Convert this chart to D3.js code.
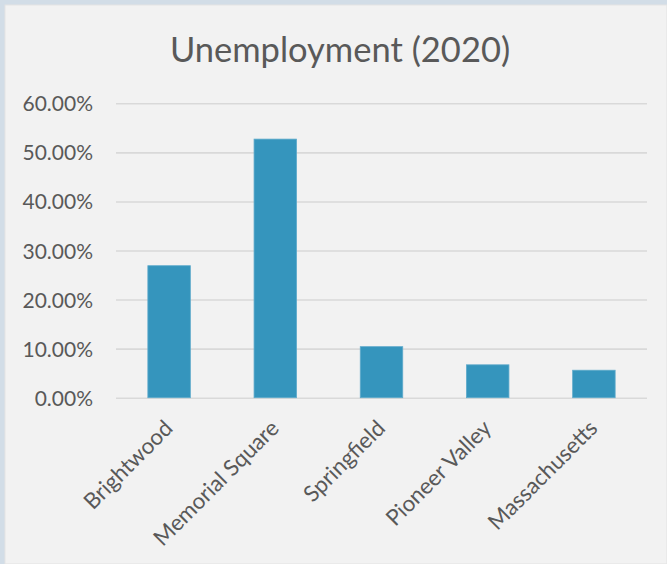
<!DOCTYPE html>
<html>
<head>
<meta charset="utf-8">
<script src="https://cdn.jsdelivr.net/npm/d3@7"></script>
<style>
  html, body { margin: 0; padding: 0; background: #d2dde7; }
  svg { display: block; }
</style>
</head>
<body>
<div id="chart-area"></div>
<script>
// data
var areas = ["Brightwood", "Memorial Square", "Springfield", "Pioneer Valley", "Massachusetts"];
var rates = [0.269, 0.527, 0.104, 0.067, 0.056];
var yTicks = [0, 0.1, 0.2, 0.3, 0.4, 0.5, 0.6];

var W = 667, H = 564;
var plot = { left: 116, right: 647, top: 103.3, bottom: 397.7 };

var svg = d3.select("#chart-area")
    .append("svg")
    .attr("width", W)
    .attr("height", H);

// chart panel
svg.append("rect")
    .attr("x", 5)
    .attr("y", 5)
    .attr("width", W - 5)
    .attr("height", H - 5)
    .attr("fill", "#f2f2f2")
    .attr("stroke", "#e3e3e3")
    .attr("stroke-width", 1);

// x scale
var xScale = d3.scaleBand()
    .domain(areas)
    .range([plot.left, plot.right])
    .paddingInner(0.6)
    .paddingOuter(0.3);

// y scale
var yScale = d3.scaleLinear()
    .domain([0, 0.6])
    .range([plot.bottom, plot.top]);

// Title
svg.append("text")
    .attr("x", 340)
    .attr("y", 61.7)
    .attr("font-family", "Lato")
    .attr("font-size", "34.5px")
    .attr("fill", "#595959")
    .attr("text-anchor", "middle")
    .text("Unemployment (2020)");

// gridlines + y labels
var left_axis = d3.axisLeft(yScale)
    .tickValues(yTicks)
    .tickSize(-(plot.right - plot.left))
    .tickPadding(23)
    .tickFormat(d3.format(".2%"));

var yAxis = svg.append("g")
    .attr("class", "y axis")
    .attr("transform", "translate(" + plot.left + ",0)")
    .call(left_axis);

yAxis.select(".domain").remove();
yAxis.selectAll(".tick line")
    .attr("stroke", "#d9d9d9")
    .attr("stroke-width", 1.6);
yAxis.selectAll(".tick text")
    .attr("font-family", "Lato")
    .attr("font-size", "21px")
    .attr("fill", "#595959")
    .attr("dy", "0.36em");

// bars
svg.selectAll("rect.bar")
    .data(areas)
    .enter()
    .append("rect")
    .attr("class", "bar")
    .attr("x", function(d) { return xScale(d); })
    .attr("y", function(d, i) { return yScale(rates[i]); })
    .attr("width", xScale.bandwidth())
    .attr("height", function(d, i) { return yScale(0) - yScale(rates[i]); })
    .attr("fill", "#3595bd")
    .attr("stroke", "#5eaacb")
    .attr("stroke-width", 0.8);

// x labels, rotated
var bottom_axis = d3.axisBottom(xScale).tickSize(0).tickPadding(0);
var xAxis = svg.append("g")
    .attr("class", "x axis")
    .attr("transform", "translate(0," + plot.bottom + ")")
    .call(bottom_axis);

xAxis.select(".domain").remove();
xAxis.selectAll(".tick text")
    .attr("font-family", "Lato")
    .attr("font-size", "22.3px")
    .attr("fill", "#595959")
    .attr("text-anchor", "end")
    .attr("dy", null)
    .attr("y", null)
    .attr("transform", "translate(5,32) rotate(-45)");
</script>
</body>
</html>
